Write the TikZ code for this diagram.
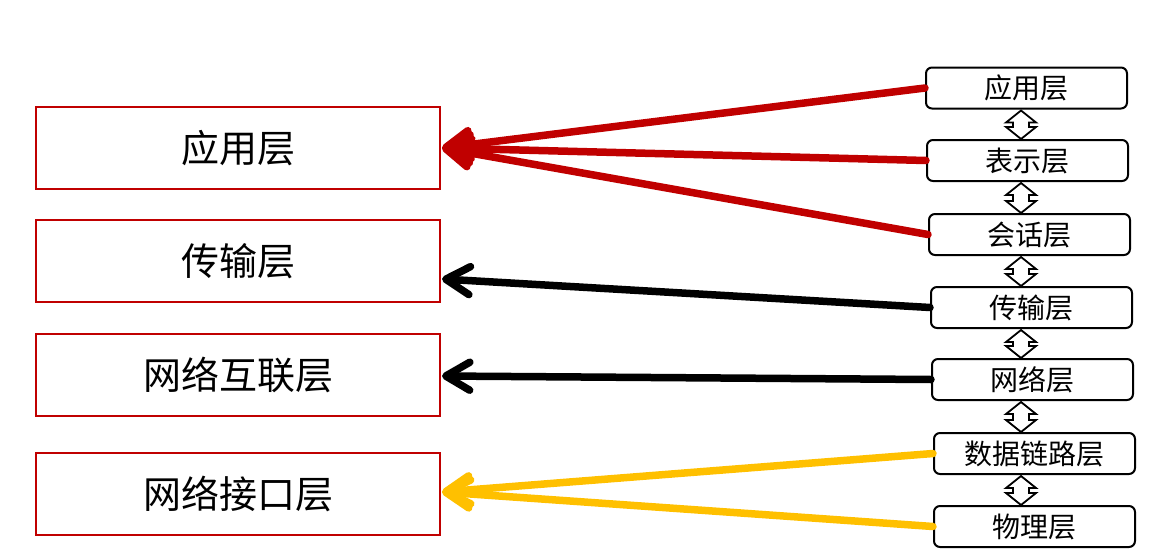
\documentclass[tikz,border=0pt]{standalone}
\usepackage{fontspec}
\newfontfamily\cjk{Noto Sans CJK SC}
\usetikzlibrary{arrows.meta,calc}
\definecolor{tcpred}{HTML}{C00000}
\definecolor{tcpyellow}{HTML}{FFC000}
\tikzset{
  tcpbox/.style={draw=tcpred, line width=1.5pt, minimum width=404pt, minimum height=82pt,
    inner sep=0pt, font=\cjk\fontsize{38}{42}\selectfont},
  osibox/.style={draw=black, line width=2pt, rounded corners=6pt, minimum width=201pt,
    minimum height=41pt, inner sep=0pt, font=\cjk\fontsize{28}{32}\selectfont},
  maparrow/.style={line width=7.5pt, line cap=round,
    -{Straight Barb[length=24pt,width=28pt,round]}},
  udar/.style={draw=black, fill=white, line width=1.8pt, line join=miter},
}
% hollow up-down arrow between two stacked layers
\newcommand\udarrow[2]{%
  \draw[udar] let \p1=(#1.south), \p2=(#2.north), \p3=(axis) in
    (\x3,\y1-1pt) -- (\x3+15pt,\y1-13pt) -- (\x3+8pt,\y1-13pt) -- (\x3+8pt,\y2+12pt)
    -- (\x3+15pt,\y2+12pt) -- (\x3,\y2) -- (\x3-15pt,\y2+12pt) -- (\x3-8pt,\y2+12pt)
    -- (\x3-8pt,\y1-13pt) -- (\x3-15pt,\y1-13pt) -- cycle;}
\begin{document}
\begin{tikzpicture}[x=1pt,y=-1pt]
\useasboundingbox (0,0) rectangle (1163,560);

% TCP/IP model
\node[tcpbox] (L1) at (238,148) {应用层};
\node[tcpbox] (L2) at (238,261) {传输层};
\node[tcpbox] (L3) at (238,375) {网络互联层};
\node[tcpbox] (L4) at (238,494) {网络接口层};

% OSI model
\node[osibox] (R1) at (1026.5,88) {应用层};
\node[osibox] (R2) at (1027.5,160.5) {表示层};
\node[osibox] (R3) at (1029.5,234.5) {会话层};
\node[osibox] (R4) at (1031.5,307.5) {传输层};
\node[osibox] (R5) at (1032.5,379.5) {网络层};
\node[osibox] (R6) at (1034.5,453.5) {数据链路层};
\node[osibox] (R7) at (1034.5,526.5) {物理层};

\coordinate (axis) at (1021,0);
\udarrow{R1}{R2}
\udarrow{R2}{R3}
\udarrow{R3}{R4}
\udarrow{R4}{R5}
\udarrow{R5}{R6}
\udarrow{R6}{R7}

% arrow targets on the TCP/IP side
\coordinate (t1) at (442,148);
\coordinate (t2) at (442,279);
\coordinate (t3) at (442,376);
\coordinate (t4) at (442,492);

\draw[maparrow, tcpred] (R1.west) -- (t1);
\draw[maparrow, tcpred] (R2.west) -- (t1);
\draw[maparrow, tcpred] (R3.west) -- (t1);
\draw[maparrow, black] (R4.west) -- (t2);
\draw[maparrow, black] (R5.west) -- (t3);
\draw[maparrow, tcpyellow] (R6.west) -- (t4);
\draw[maparrow, tcpyellow] (R7.west) -- (t4);
\end{tikzpicture}
\end{document}
